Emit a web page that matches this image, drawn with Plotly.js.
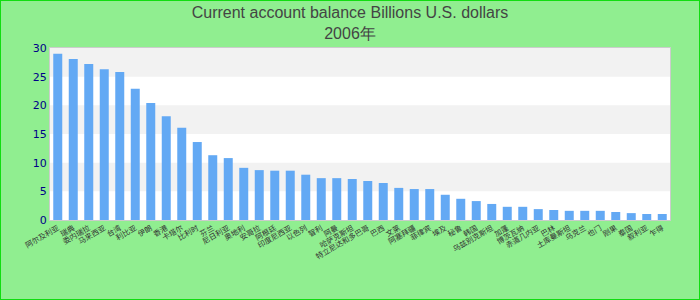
<!DOCTYPE html>
<html>
<head>
<meta charset="utf-8">
<script src="https://cdn.plot.ly/plotly-3.0.1.min.js"></script>
<style>
html,body{margin:0;padding:0;background:#90ee90;}
#wrap{position:relative;width:700px;height:300px;}
#chart{width:700px;height:300px;}
#frame{position:absolute;left:0;top:0;width:700px;height:300px;box-sizing:border-box;border:1px solid #11dd11;pointer-events:none;}
</style>
</head>
<body>
<div id="wrap"><div id="chart"></div><div id="frame"></div></div>
<script>
const countries = ["阿尔及利亚","瑞典","委内瑞拉","马来西亚","台湾","利比亚","伊朗","香港","卡塔尔","比利时",
  "芬兰","尼日利亚","奥地利","安哥拉","阿根廷","印度尼西亚","以色列","智利","阿曼","哈萨克斯坦",
  "特立尼达和多巴哥","巴西","文莱","阿塞拜疆","菲律宾","埃及","秘鲁","韩国","乌兹别克斯坦","加蓬",
  "博茨瓦纳","赤道几内亚","巴林","土库曼斯坦","乌克兰","也门","刚果","泰国","叙利亚","乍得"];
const balance = [29.0,28.1,27.2,26.3,25.8,22.9,20.4,18.1,16.1,13.6,
  11.3,10.8,9.1,8.7,8.6,8.6,7.9,7.3,7.3,7.15,
  6.8,6.45,5.6,5.4,5.4,4.4,3.7,3.3,2.8,2.3,
  2.3,1.9,1.75,1.6,1.6,1.6,1.4,1.2,1.05,1.05];
const yTicks = [0,5,10,15,20,25,30];
const bands = [[5,10],[15,20],[25,30]];

const trace = {
  type: "bar",
  x: countries,
  y: balance,
  marker: {color: "#63a9f4"},
  hoverinfo: "x+y"
};

const shapes = bands.map(b => ({
  type: "rect", xref: "paper", yref: "y", x0: 0, x1: 1, y0: b[0], y1: b[1],
  fillcolor: "#f2f2f2", line: {width: 0}, layer: "below"
}));

const layout = {
  width: 700, height: 300,
  paper_bgcolor: "#90ee90",
  plot_bgcolor: "#ffffff",
  margin: {l: 50, r: 30, t: 48, b: 80},
  title: {
    text: "Current account balance Billions U.S. dollars<br>2006年",
    font: {family: "Liberation Sans, Arial, sans-serif", size: 16, color: "#444444"},
    x: 0.5, xanchor: "center", yref: "container", y: 0.94, yanchor: "top"
  },
  bargap: 0.42,
  showlegend: false,
  shapes: shapes,
  xaxis: {
    type: "category",
    tickangle: -30,
    tickfont: {family: "Noto Sans CJK SC, sans-serif", size: 7.5, color: "#333333"},
    showline: true, linecolor: "#cccccc", linewidth: 1, mirror: true,
    showgrid: false, ticks: "", zeroline: false
  },
  yaxis: {
    range: [0, 30],
    tickvals: yTicks,
    ticktext: yTicks.map(String),
    tickfont: {family: "DejaVu Sans, sans-serif", size: 11, color: "#000088"},
    showline: true, linecolor: "#cccccc", linewidth: 1, mirror: true,
    showgrid: false, zeroline: false, ticks: ""
  }
};

Plotly.newPlot("chart", [trace], layout, {displayModeBar: false, staticPlot: true});
</script>
</body>
</html>
